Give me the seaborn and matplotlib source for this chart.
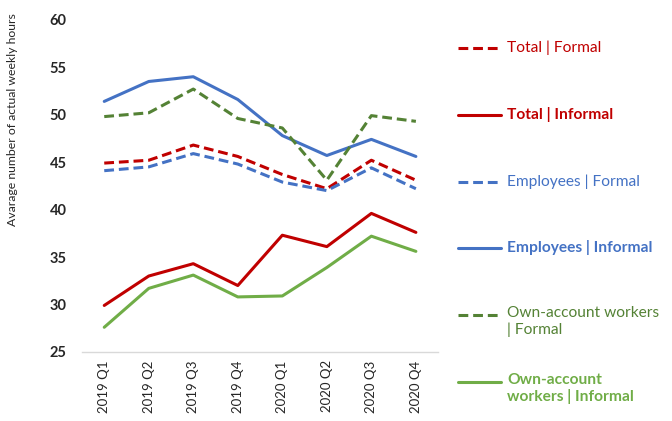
import matplotlib.pyplot as plt
import matplotlib.lines as mlines
import pandas as pd
import seaborn as sns

quarters = ["2019 Q1", "2019 Q2", "2019 Q3", "2019 Q4",
            "2020 Q1", "2020 Q2", "2020 Q3", "2020 Q4"]

total_formal = [44.9, 45.2, 46.8, 45.6, 43.7, 42.2, 45.2, 43.1]
total_informal = [29.9, 33.0, 34.3, 32.0, 37.3, 36.1, 39.6, 37.6]
employees_formal = [44.1, 44.5, 45.9, 44.8, 42.9, 42.0, 44.4, 42.2]
employees_informal = [51.4, 53.5, 54.0, 51.6, 47.8, 45.7, 47.4, 45.6]
own_formal = [49.8, 50.2, 52.7, 49.6, 48.6, 43.1, 49.9, 49.3]
own_informal = [27.6, 31.7, 33.1, 30.8, 30.9, 33.9, 37.2, 35.6]

series = {
    "Total | Formal": total_formal,
    "Total | Informal": total_informal,
    "Employees | Formal": employees_formal,
    "Employees | Informal": employees_informal,
    "Own-account workers\n| Formal": own_formal,
    "Own-account\nworkers | Informal": own_informal,
}

colors = {
    "Total | Formal": "#C00000",
    "Total | Informal": "#C00000",
    "Employees | Formal": "#4472C4",
    "Employees | Informal": "#4472C4",
    "Own-account workers\n| Formal": "#548235",
    "Own-account\nworkers | Informal": "#70AD47",
}
dash = (3.2, 1.6)
dashes = {k: (dash if "| Formal" in k else "") for k in series}
bold = {k: ("Informal" in k) for k in series}

df = pd.concat([
    pd.DataFrame({"quarter": quarters, "hours": v, "series": k})
    for k, v in series.items()
])

sns.set_style("white")
plt.rcParams["font.family"] = ["Lato", "DejaVu Sans"]

fig = plt.figure(figsize=(6.72, 4.21), dpi=100)
ax = fig.add_axes([0.122, 0.164, 0.530, 0.789])

sns.lineplot(data=df, x="quarter", y="hours", hue="series", style="series",
             palette=colors, dashes=dashes, linewidth=2.2, legend=False,
             sort=False, ax=ax)

ax.set_xlim(-0.5, 7.5)
ax.set_ylim(25, 60)
ax.set_yticks(range(25, 61, 5))
ax.set_xlabel("")
ax.set_ylabel("Avarage number of actual weekly hours", fontsize=8.8,
              color="#262626")
ax.yaxis.set_label_coords(-0.18, 0.70)
for s in ["top", "right", "left"]:
    ax.spines[s].set_visible(False)
ax.spines["bottom"].set_color("#D9D9D9")
ax.spines["bottom"].set_linewidth(1)
ax.tick_params(axis="y", length=0, pad=11, labelsize=10.5,
               labelcolor="#262626")
ax.tick_params(axis="x", length=0, pad=6, labelsize=9.5,
               labelcolor="#262626", rotation=90)
for t in ax.get_yticklabels():
    t.set_fontweight("bold")

# legend drawn by hand at the right
H, W = 421.0, 672.0
key_y = [48, 115, 182, 248, 315, 382]
for (name, yy) in zip(series, key_y):
    fy = 1 - yy / H
    ln = mlines.Line2D([458 / W, 501 / W], [fy, fy], color=colors[name],
                       linewidth=2.2, transform=fig.transFigure)
    if dashes[name]:
        ln.set_dashes(dash)
    fig.add_artist(ln)
    if "\n" in name:
        fig.text(507 / W, 1 - (yy - 9) / H, name, va="top", ha="left",
                 fontsize=11.2, color=colors[name],
                 fontweight="bold" if bold[name] else "normal",
                 linespacing=1.2)
    else:
        fig.text(507 / W, fy, name, va="center", ha="left",
                 fontsize=11.2, color=colors[name],
                 fontweight="bold" if bold[name] else "normal")

fig.savefig("out.png", dpi=100)
